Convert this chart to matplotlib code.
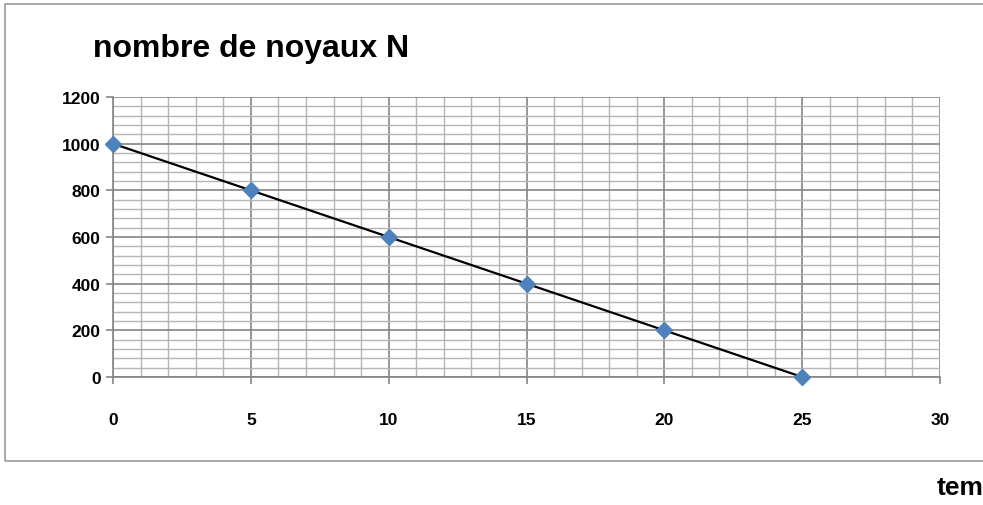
import matplotlib.pyplot as plt
from matplotlib.patches import Rectangle
from matplotlib.ticker import MultipleLocator

t = [0, 5, 10, 15, 20, 25]
N = [1000, 800, 600, 400, 200, 0]

plt.rcParams['font.family'] = ['Liberation Sans', 'DejaVu Sans']

fig = plt.figure(figsize=(9.83, 5.06), dpi=100)
ax = fig.add_axes([113/983, 1 - 378/506, (940 - 113)/983, (378 - 98)/506])

ax.set_xlim(0, 30)
ax.set_ylim(0, 1200)
ax.xaxis.set_major_locator(MultipleLocator(5))
ax.xaxis.set_minor_locator(MultipleLocator(1))
ax.yaxis.set_major_locator(MultipleLocator(200))
ax.yaxis.set_minor_locator(MultipleLocator(40))

ax.grid(which='minor', color='#b5b5b5', linewidth=1.0)
ax.grid(which='major', color='#858585', linewidth=1.2)
ax.set_axisbelow(True)

for s in ['top', 'right']:
    ax.spines[s].set_visible(False)
for s in ['left', 'bottom']:
    ax.spines[s].set_color('#858585')
    ax.spines[s].set_linewidth(1.2)

ax.tick_params(which='major', length=5, width=1.2, color='#858585',
               labelsize=12.5)
ax.tick_params(axis='x', which='major', pad=20)
ax.tick_params(axis='y', which='major', pad=4)
ax.tick_params(which='minor', length=0)
for lab in ax.get_xticklabels() + ax.get_yticklabels():
    lab.set_fontweight('bold')

ax.plot(t, N, color='black', linewidth=1.6, zorder=3)
ax.plot(t, N, linestyle='none', marker='D', markersize=8.5,
        color='#4f81bd', zorder=4, clip_on=False)

fig.text(93/983, 1 - 49/506, 'nombre de noyaux N', fontsize=23,
         fontweight='bold', va='center', ha='left')
fig.text(937/983, 1 - 488/506, 'temps', fontsize=19,
         fontweight='bold', va='center', ha='left')

fig.patches.append(Rectangle((5/983, 1 - 462/506), 1.2, (462 - 5)/506,
                             transform=fig.transFigure, fill=False,
                             edgecolor='#9a9a9a', linewidth=1.2))

fig.savefig('out.png', dpi=100)
